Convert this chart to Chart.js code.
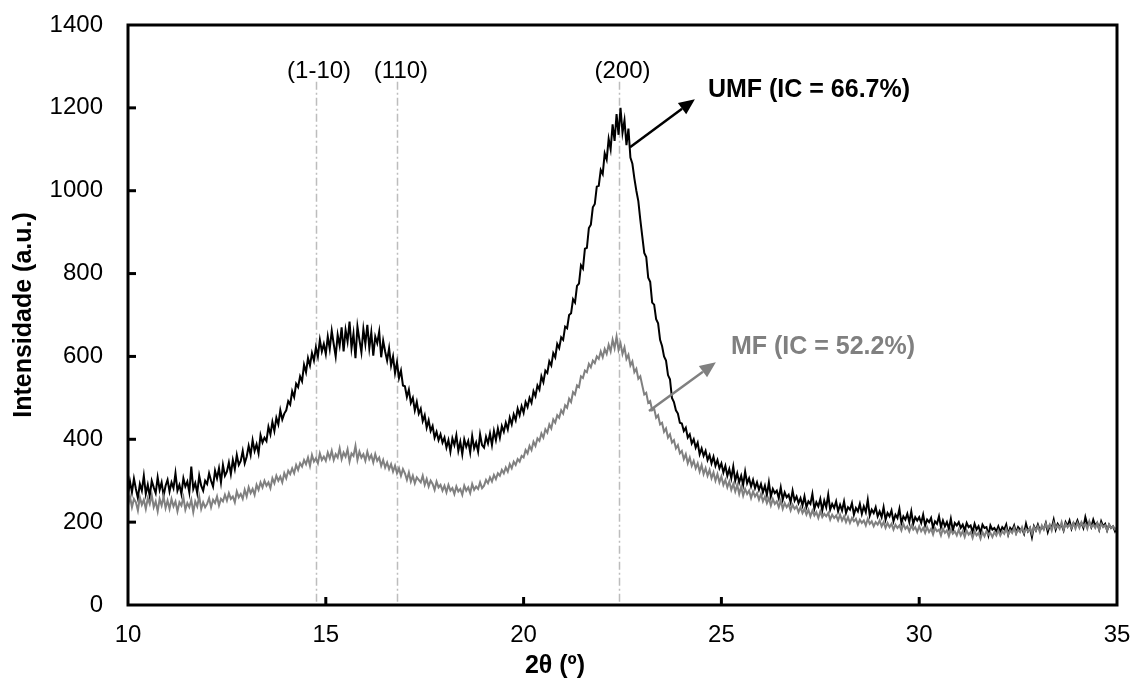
<!DOCTYPE html>
<html>
<head>
<meta charset="utf-8">
<script src="https://cdn.jsdelivr.net/npm/chart.js@4.4.1/dist/chart.umd.min.js"></script>
<style>
  html, body { margin: 0; padding: 0; background: #ffffff; }
  #wrap { width: 1132px; height: 691px; }
</style>
</head>
<body>
<div id="wrap"><canvas id="c" width="1132" height="691"></canvas></div>
<script>
// ---- DATA ----
const X_START = 10;      // 2θ of first sample
const X_STEP = 0.05;     // sampling step of the series below

// UMF (black), intensity at 2θ = 10.00, 10.05, ... 35.00 (one row per degree)
const umf = [
  265, 298, 272, 305, 280, 258, 292, 276, 312, 268, 290, 262, 300, 284, 270, 308, 278, 296, 264, 288,
  302, 274, 296, 282, 318, 276, 290, 268, 306, 286, 298, 272, 334, 280, 294, 270, 312, 288, 276, 300,
  292, 318, 300, 286, 324, 306, 330, 296, 338, 312, 322, 344, 316, 350, 328, 362, 338, 348, 372, 342,
  358, 384, 362, 398, 372, 388, 366, 410, 392, 404, 396, 430, 412, 442, 420, 452, 436, 470, 448, 462,
  470, 492, 484, 516, 502, 534, 526, 552, 540, 580, 562, 596, 578, 608, 590, 622, 600, 640, 612, 630,
  606, 648, 618, 662, 630, 600, 652, 626, 670, 612, 664, 636, 684, 620, 655, 596, 672, 640, 610, 666,
  630, 676, 620, 658, 602, 648, 632, 660, 598, 638, 612, 590, 620, 578, 600, 560, 586, 548, 566, 530,
  528, 502, 520, 488, 500, 470, 490, 462, 474, 444, 458, 428, 446, 420, 432, 404, 418, 398, 412, 392,
  404, 380, 398, 370, 402, 386, 410, 372, 394, 364, 400, 382, 396, 368, 408, 378, 392, 370, 412, 386,
  380, 406, 390, 414, 386, 420, 398, 426, 404, 432, 418, 440, 424, 452, 436, 460, 446, 474, 458, 480,
  464, 490, 478, 500, 488, 516, 504, 530, 520, 552, 538, 566, 560, 588, 578, 608, 598, 630, 620, 646,
  640, 672, 668, 700, 704, 738, 730, 770, 776, 820, 812, 860, 862, 910, 918, 960, 968, 1010, 1012, 1050,
  1040, 1090, 1075, 1125, 1100, 1160, 1120, 1185, 1135, 1200, 1140, 1170, 1110, 1150, 1080, 1065, 1030, 1000, 975, 930,
  890, 850, 840, 790, 780, 730, 725, 690, 680, 640, 625, 600, 590, 555, 545, 500, 490, 470, 462, 440,
  438, 420, 428, 404, 412, 390, 400, 380, 392, 364, 378, 360, 372, 350, 362, 342, 358, 336, 350, 330,
  342, 320, 336, 312, 328, 306, 334, 300, 318, 296, 312, 290, 322, 294, 306, 286, 302, 282, 296, 278,
  292, 272, 288, 266, 296, 262, 280, 270, 276, 258, 284, 254, 272, 260, 266, 248, 276, 252, 262, 246,
  258, 240, 262, 236, 250, 244, 268, 232, 248, 238, 256, 228, 252, 236, 266, 230, 244, 234, 250, 226,
  242, 228, 250, 222, 236, 230, 246, 218, 234, 226, 244, 220, 238, 224, 254, 216, 230, 222, 236, 214,
  226, 212, 236, 206, 222, 214, 228, 202, 218, 210, 232, 198, 214, 206, 220, 200, 226, 196, 212, 204,
  212, 198, 218, 192, 206, 200, 210, 186, 202, 196, 214, 188, 204, 190, 200, 184, 208, 180, 198, 192,
  200, 186, 194, 180, 198, 188, 192, 176, 196, 182, 190, 174, 194, 186, 188, 168, 192, 182, 186, 178,
  190, 176, 188, 182, 194, 170, 186, 180, 192, 174, 188, 182, 184, 172, 196, 178, 186, 164, 190, 180,
  194, 180, 188, 184, 198, 176, 192, 186, 206, 182, 196, 188, 194, 180, 200, 190, 204, 184, 198, 192,
  204, 190, 198, 186, 212, 194, 200, 188, 206, 192, 198, 182, 202, 190, 196, 180, 194, 186, 190, 178,
  188
];

// MF (grey), intensity at 2θ = 10.00, 10.05, ... 35.00 (one row per degree)
const mf = [
  240, 262, 236, 256, 248, 228, 260, 242, 254, 232, 258, 244, 266, 236, 250, 226, 256, 240, 262, 234,
  252, 232, 256, 238, 250, 226, 248, 240, 260, 230, 246, 236, 254, 224, 250, 238, 262, 232, 248, 236,
  244, 258, 236, 254, 246, 262, 240, 256, 250, 266, 252, 270, 256, 262, 248, 274, 260, 268, 256, 278,
  262, 284, 270, 280, 266, 290, 278, 296, 284, 300, 288, 296, 282, 306, 294, 312, 300, 310, 296, 318,
  306, 324, 316, 330, 318, 338, 326, 342, 334, 350, 340, 356, 336, 362, 346, 354, 342, 366, 350, 358,
  348, 368, 354, 372, 350, 364, 356, 378, 352, 368, 358, 376, 346, 366, 360, 384, 350, 370, 356, 364,
  348, 370, 352, 362, 344, 364, 348, 356, 336, 350, 332, 344, 328, 340, 322, 336, 318, 330, 312, 328,
  318, 302, 320, 298, 312, 294, 308, 302, 296, 312, 290, 304, 286, 300, 292, 278, 298, 284, 290, 276,
  288, 272, 290, 276, 282, 268, 286, 274, 280, 266, 288, 276, 284, 270, 292, 278, 286, 280, 296, 282,
  288, 302, 294, 308, 298, 314, 304, 318, 312, 326, 318, 332, 322, 340, 330, 346, 338, 352, 346, 360,
  356, 374, 366, 384, 374, 394, 384, 402, 396, 414, 404, 424, 416, 436, 426, 448, 440, 458, 452, 470,
  462, 482, 476, 498, 490, 514, 508, 530, 526, 552, 548, 566, 562, 582, 574, 590, 584, 600, 594, 612,
  598, 618, 606, 628, 612, 640, 620, 648, 616, 632, 606, 622, 594, 604, 578, 588, 562, 570, 546, 552,
  530, 508, 512, 488, 492, 470, 474, 452, 458, 436, 440, 418, 426, 404, 412, 392, 398, 378, 386, 366,
  372, 352, 364, 342, 356, 336, 348, 330, 342, 322, 338, 316, 330, 312, 326, 306, 320, 300, 316, 296,
  310, 290, 302, 284, 298, 278, 292, 274, 290, 268, 286, 264, 280, 268, 276, 258, 274, 262, 270, 254,
  268, 250, 262, 246, 258, 240, 256, 244, 250, 236, 252, 232, 246, 236, 244, 228, 242, 232, 238, 224,
  236, 222, 232, 218, 230, 214, 228, 216, 224, 210, 226, 212, 220, 214, 222, 206, 218, 210, 216, 204,
  218, 204, 214, 200, 212, 198, 210, 202, 208, 194, 206, 198, 204, 192, 208, 196, 202, 190, 200, 194,
  204, 190, 200, 186, 198, 188, 196, 182, 194, 186, 192, 180, 196, 184, 190, 178, 192, 182, 188, 176,
  190, 178, 186, 174, 188, 176, 184, 170, 186, 178, 182, 168, 184, 174, 180, 166, 182, 172, 178, 168,
  182, 168, 178, 164, 180, 170, 176, 162, 178, 168, 174, 160, 176, 166, 178, 170, 174, 164, 176, 168,
  180, 168, 178, 172, 184, 170, 180, 174, 186, 172, 182, 176, 188, 174, 184, 178, 186, 172, 188, 180,
  190, 176, 192, 182, 196, 184, 194, 180, 198, 186, 192, 184, 200, 182, 196, 188, 194, 186, 198, 184,
  198, 186, 200, 190, 196, 184, 202, 188, 194, 186, 198, 182, 196, 188, 192, 180, 194, 186, 190, 182,
  186
];

const seriesNames = ['UMF (IC = 66.7%)', 'MF (IC = 52.2%)'];

const xTicks = [10, 15, 20, 25, 30, 35];
const yTicks = [0, 200, 400, 600, 800, 1000, 1200, 1400];

const peakNames = ['(1-10)', '(110)', '(200)'];
const peakPositions = [14.75, 16.8, 22.4];
const peakLineTop = 1263;
const peakLabelX = [14.83, 16.9, 22.5];
const peakLabelY = 1272;

// arrows: [fromX, fromY, toX, toY], label anchor [x, y]
const umfArrow = [22.69, 1105, 24.33, 1221];
const umfLabelAt = [24.66, 1243];
const mfArrow = [23.17, 468, 24.86, 586];
const mfLabelAt = [25.24, 623];

const xTitle = '2θ (º)';
const yTitle = 'Intensidade (a.u.)';

// ---- build points ----
const toPoints = arr => arr.map((v, i) => ({ x: +(X_START + i * X_STEP).toFixed(2), y: v }));

const FONT = '"Liberation Sans", Arial, sans-serif';
const GREY = '#808080';

function arrow(ctx, x1, y1, x2, y2, color) {
  const ang = Math.atan2(y2 - y1, x2 - x1);
  const hl = 16, hw = 7;
  const bx = x2 - hl * Math.cos(ang), by = y2 - hl * Math.sin(ang);
  ctx.save();
  ctx.strokeStyle = color; ctx.fillStyle = color; ctx.lineWidth = 2.5;
  ctx.beginPath(); ctx.moveTo(x1, y1); ctx.lineTo(bx, by); ctx.stroke();
  ctx.beginPath();
  ctx.moveTo(x2, y2);
  ctx.lineTo(bx + hw * Math.sin(ang), by - hw * Math.cos(ang));
  ctx.lineTo(bx - hw * Math.sin(ang), by + hw * Math.cos(ang));
  ctx.closePath(); ctx.fill();
  ctx.restore();
}

const overlay = {
  id: 'overlay',
  beforeDatasetsDraw(chart) {
    const { ctx, chartArea: a, scales: { x, y } } = chart;
    ctx.save();
    ctx.strokeStyle = '#bdbdbd';
    ctx.lineWidth = 1.5;
    ctx.setLineDash([8, 3, 2, 3]);
    peakPositions.forEach(p => {
      const px = Math.round(x.getPixelForValue(p)) + 0.5;
      ctx.beginPath();
      ctx.moveTo(px, y.getPixelForValue(peakLineTop));
      ctx.lineTo(px, a.bottom);
      ctx.stroke();
    });
    ctx.setLineDash([]);
    ctx.fillStyle = '#000';
    ctx.font = '24px ' + FONT;
    ctx.textAlign = 'center';
    ctx.textBaseline = 'alphabetic';
    peakNames.forEach((n, i) => {
      ctx.fillText(n, x.getPixelForValue(peakLabelX[i]), y.getPixelForValue(peakLabelY));
    });
    ctx.restore();
  },
  afterDatasetsDraw(chart) {
    const { ctx, chartArea: a, scales: { x, y } } = chart;
    ctx.save();
    // frame
    ctx.strokeStyle = '#000';
    ctx.lineWidth = 3;
    ctx.strokeRect(a.left, a.top, a.right - a.left, a.bottom - a.top);
    // inward ticks
    ctx.lineWidth = 3;
    yTicks.forEach(v => {
      if (v === yTicks[0] || v === yTicks[yTicks.length - 1]) return;
      const py = y.getPixelForValue(v);
      ctx.beginPath(); ctx.moveTo(a.left, py); ctx.lineTo(a.left + 8, py); ctx.stroke();
    });
    xTicks.forEach(v => {
      if (v === xTicks[0] || v === xTicks[xTicks.length - 1]) return;
      const px = x.getPixelForValue(v);
      ctx.beginPath(); ctx.moveTo(px, a.bottom); ctx.lineTo(px, a.bottom - 8); ctx.stroke();
    });
    // arrows + series labels
    arrow(ctx, x.getPixelForValue(umfArrow[0]), y.getPixelForValue(umfArrow[1]),
               x.getPixelForValue(umfArrow[2]), y.getPixelForValue(umfArrow[3]), '#000');
    arrow(ctx, x.getPixelForValue(mfArrow[0]), y.getPixelForValue(mfArrow[1]),
               x.getPixelForValue(mfArrow[2]), y.getPixelForValue(mfArrow[3]), GREY);
    ctx.font = 'bold 25px ' + FONT;
    ctx.textAlign = 'left';
    ctx.textBaseline = 'middle';
    ctx.fillStyle = '#000';
    ctx.fillText(seriesNames[0], x.getPixelForValue(umfLabelAt[0]), y.getPixelForValue(umfLabelAt[1]));
    ctx.fillStyle = GREY;
    ctx.fillText(seriesNames[1], x.getPixelForValue(mfLabelAt[0]), y.getPixelForValue(mfLabelAt[1]));
    // axis titles
    ctx.fillStyle = '#000';
    ctx.font = 'bold 25px ' + FONT;
    ctx.textAlign = 'center';
    ctx.textBaseline = 'middle';
    ctx.fillText(xTitle, 555, 666);
    ctx.translate(24, (a.top + a.bottom) / 2);
    ctx.rotate(-Math.PI / 2);
    ctx.fillText(yTitle, 0, 0);
    ctx.restore();
  }
};

new Chart(document.getElementById('c'), {
  type: 'line',
  data: {
    datasets: [
      { label: seriesNames[1], data: toPoints(mf), borderColor: GREY, borderWidth: 2,
        pointRadius: 0, tension: 0, fill: false },
      { label: seriesNames[0], data: toPoints(umf), borderColor: '#000000', borderWidth: 2,
        pointRadius: 0, tension: 0, fill: false }
    ]
  },
  options: {
    responsive: false,
    animation: false,
    events: [],
    layout: { padding: { left: 0, top: 25, right: 15, bottom: 0 } },
    plugins: { legend: { display: false }, tooltip: { enabled: false }, title: { display: false } },
    scales: {
      x: {
        type: 'linear', min: xTicks[0], max: xTicks[xTicks.length - 1],
        afterFit: s => { s.height = 86; s.paddingLeft = 0; s.paddingRight = 0; },
        afterBuildTicks: s => { s.ticks = xTicks.map(v => ({ value: v })); },
        grid: { display: false, drawTicks: false },
        border: { display: false },
        ticks: { color: '#000', font: { family: FONT, size: 24 }, padding: 16, maxRotation: 0,
                 callback: v => String(v) }
      },
      y: {
        type: 'linear', min: yTicks[0], max: yTicks[yTicks.length - 1],
        afterFit: s => { s.width = 128; s.paddingTop = 0; s.paddingBottom = 0; },
        afterBuildTicks: s => { s.ticks = yTicks.map(v => ({ value: v })); },
        grid: { display: false, drawTicks: false },
        border: { display: false },
        ticks: { color: '#000', font: { family: FONT, size: 24 }, padding: 25,
                 callback: v => String(v) }
      }
    }
  },
  plugins: [overlay]
});
</script>
</body>
</html>
